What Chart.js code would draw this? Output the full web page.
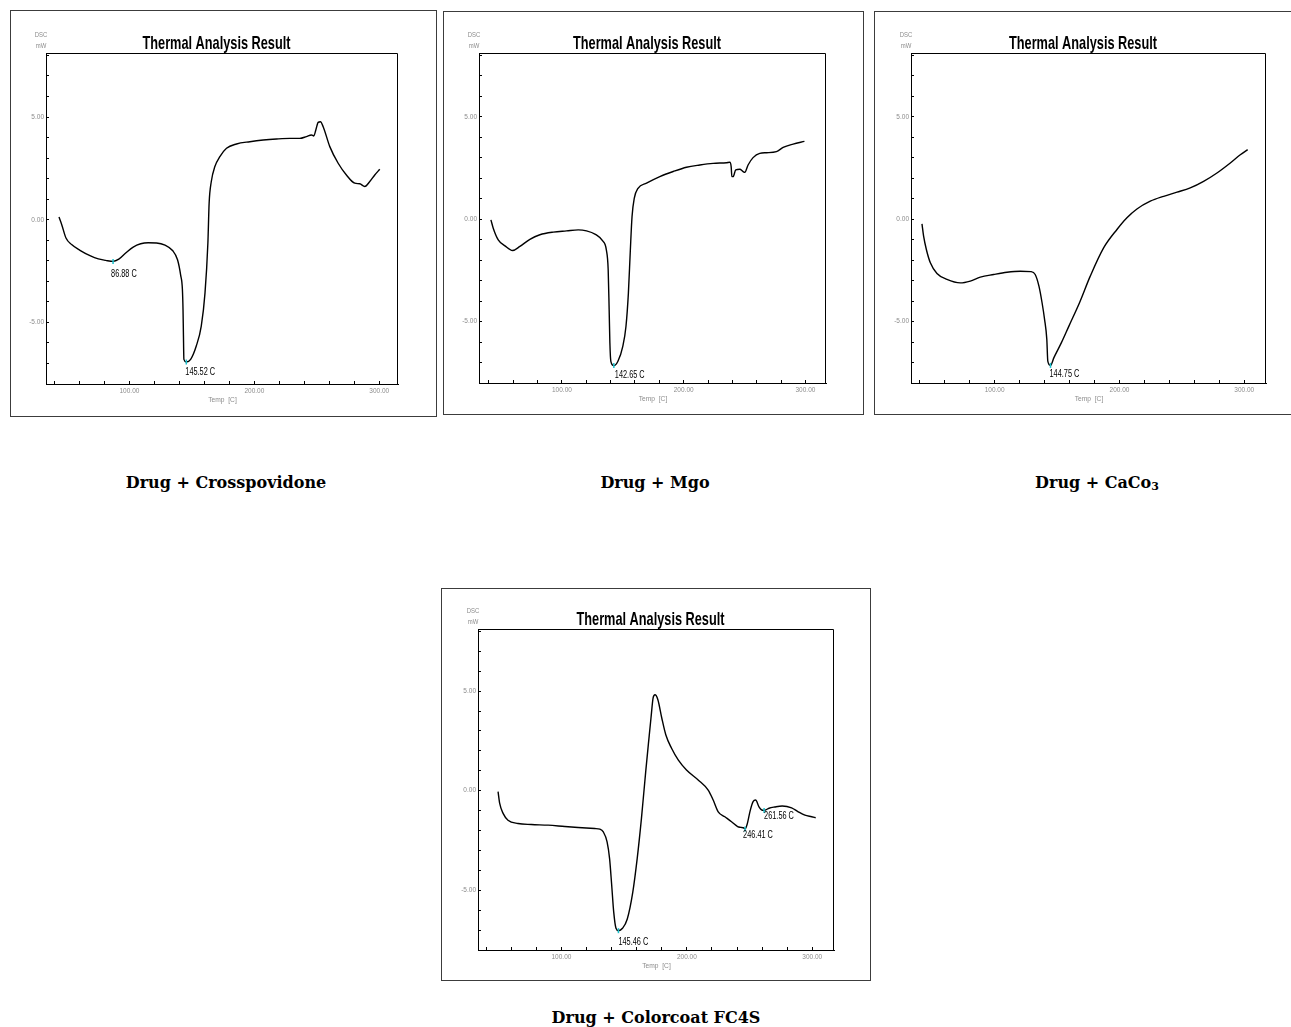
<!DOCTYPE html>
<html>
<head>
<meta charset="utf-8">
<title>Thermal Analysis Result</title>
<script src="https://cdn.jsdelivr.net/npm/chart.js@4.4.1/dist/chart.umd.min.js"></script>
<style>
  html, body { margin: 0; padding: 0; background: #fff; width: 1291px; height: 1027px; overflow: hidden; }
  canvas.panel { position: absolute; }
  .caption {
    position: absolute; width: 400px; text-align: center;
    font-family: 'DejaVu Serif', serif; font-weight: bold; font-size: 16px; line-height: 20px; color: #000;
  }
  .caption sub { font-size: 11px; vertical-align: -2px; line-height: 0; }
</style>
</head>
<body>
<div class="caption" style="left:26px; top:473px;">Drug + Crosspovidone</div>
<div class="caption" style="left:455px; top:473px;">Drug + Mgo</div>
<div class="caption" style="left:897px; top:473px;">Drug + CaCo<sub>3</sub></div>
<div class="caption" style="left:456px; top:1008px;">Drug + Colorcoat FC4S</div>

<script>
// DSC traces: temperature in °C, heat flow in mW
const crosspovidoneTemp = [43.6, 45.8, 49.2, 53.7, 60.4, 68.4, 75.1, 81.0, 86.88, 91.5,
  97.0, 103.0, 109.0, 115.0, 121.7, 128.5, 134.5, 138.5, 141.0, 142.4, 142.9,
  143.2, 143.6, 145.52, 149.0, 153.5, 157.5, 160.5, 162.8, 163.8, 165.5,
  168.4, 172.4, 177.7, 185.7, 196.4, 207.1, 217.7, 228.4, 236.4, 241.7,
  245.7, 247.6, 249.2, 251.1, 252.9, 255.1, 260.4, 267.1, 273.7, 280.4,
  284.4, 288.4, 292.4, 296.4, 300.4];
const crosspovidoneFlow = [0.13, -0.24, -0.89, -1.21, -1.49, -1.75, -1.91, -1.98, -2.03, -1.92,
  -1.62, -1.33, -1.17, -1.12, -1.13, -1.24, -1.50, -1.95, -2.70, -3.40, -4.40,
  -5.50, -6.80, -6.93, -6.80, -6.15, -5.18, -3.56, -1.13, 0.81, 1.85,
  2.59, 3.07, 3.48, 3.69, 3.80, 3.88, 3.93, 3.96, 3.96, 4.05,
  4.13, 4.08, 4.37, 4.74, 4.77, 4.53, 3.56, 2.75, 2.18, 1.78,
  1.75, 1.62, 1.86, 2.18, 2.46];
const crosspovidonePeaks = [86.88, 145.52];

const mgoTemp = [41.7, 43.6, 47.7, 53.2, 59.5, 65.5, 73.7, 81.9, 92.9, 103.8,
  113.4, 120.2, 127.5, 133.5, 136.5, 138.0, 138.8, 139.4, 140.2, 142.65,
  146.0, 150.0, 152.6, 154.6, 156.2, 157.6, 159.4, 162.5, 169.5, 180.4,
  191.4, 202.3, 213.3, 224.2, 235.2, 237.9, 239.0, 239.6, 240.6, 242.8,
  246.1, 248.8, 250.2, 252.9, 257.0, 262.5, 268.0, 276.2, 281.7, 289.9,
  299.2];
const mgoFlow = [-0.03, -0.44, -1.01, -1.30, -1.53, -1.33, -0.98, -0.76, -0.63, -0.57,
  -0.52, -0.57, -0.74, -1.06, -1.50, -2.47, -4.42, -6.05, -6.94, -7.15,
  -6.94, -6.21, -5.24, -3.61, -1.50, 0.13, 1.02, 1.51, 1.76, 2.08,
  2.33, 2.54, 2.65, 2.73, 2.76, 2.78, 2.57, 2.08, 2.08, 2.41,
  2.44, 2.33, 2.29, 2.65, 3.01, 3.22, 3.25, 3.30, 3.51, 3.67,
  3.80];
const mgoPeaks = [142.65];

const caco3Temp = [41.8, 43.1, 45.3, 48.5, 53.8, 61.8, 72.5, 80.5, 88.5, 99.2,
  109.9, 120.6, 129.0, 132.5, 135.5, 138.0, 140.0, 141.8, 142.6, 144.75,
  147.5, 153.5, 159.5, 168.0, 176.6, 187.3, 198.0, 206.0, 214.0, 224.7,
  235.4, 246.1, 256.7, 267.4, 278.1, 288.8, 296.8, 302.7];
const caco3Flow = [-0.23, -0.83, -1.48, -2.13, -2.65, -2.94, -3.11, -3.02, -2.83, -2.70,
  -2.59, -2.54, -2.56, -2.70, -3.27, -4.08, -4.89, -5.87, -6.93, -7.14,
  -6.76, -6.03, -5.22, -4.08, -2.78, -1.40, -0.50, 0.07, 0.50, 0.88,
  1.12, 1.32, 1.53, 1.85, 2.26, 2.75, 3.15, 3.40];
const caco3Peaks = [144.75];

const colorcoatTemp = [49.5, 50.8, 53.5, 57.4, 65.4, 76.1, 89.4, 102.7, 113.3, 126.6,
  130.6, 133.4, 136.4, 138.4, 140.1, 141.7, 143.5, 145.46, 148.7, 152.5,
  156.9, 160.4, 163.8, 167.2, 169.8, 171.4, 173.1, 174.6, 176.9, 180.0,
  183.2, 187.8, 193.1, 199.7, 209.0, 217.0, 221.0, 225.0, 230.3, 235.6,
  240.5, 243.0, 245.0, 246.41, 248.0, 250.5, 252.8, 254.8, 257.5, 259.5,
  261.56, 265.5, 270.0, 276.0, 283.5, 288.8, 294.1, 299.5, 302.7];
const colorcoatFlow = [-0.05, -0.64, -1.14, -1.48, -1.65, -1.70, -1.73, -1.80, -1.85, -1.90,
  -1.93, -2.07, -2.57, -3.41, -4.76, -6.10, -6.91, -7.03, -6.91, -6.44,
  -5.09, -3.41, -1.39, 0.96, 2.64, 3.65, 4.66, 4.82, 4.57, 3.65,
  2.81, 2.13, 1.55, 1.04, 0.54, 0.03, -0.47, -1.06, -1.31, -1.56,
  -1.80, -1.84, -1.86, -1.92, -1.70, -1.00, -0.55, -0.47, -0.81, -0.96,
  -0.99, -0.88, -0.82, -0.77, -0.86, -1.06, -1.23, -1.31, -1.36];
const colorcoatPeaks = [145.46, 246.41, 261.56];

// Axis ticks and labels
const yTickValues = [-8, -7, -6, -5, -4, -3, -2, -1, 0, 1, 2, 3, 4, 5, 6, 7, 8];
const yLabelledValues = [-5, 0, 5];
const yTickLabels = ['-5.00', '0.00', '5.00'];
const xTickValues = [40, 60, 80, 100, 120, 140, 160, 180, 200, 220, 240, 260, 280, 300];
const xLabelledValues = [100, 200, 300];
const xTickLabels = ['100.00', '200.00', '300.00'];

const chartTitle = 'Thermal Analysis Result';
const yAxisName = ['DSC', 'mW'];
const xAxisName = 'Temp  [C]';

// Page geometry for each plot (canvas frame and inner plot box)
const panels = [
  { temp: crosspovidoneTemp, flow: crosspovidoneFlow, peaks: crosspovidonePeaks,
    frame: { left: 10, top: 10, width: 427, height: 407 },
    plot: { left: 46, top: 53, right: 398, bottom: 384 },
    xMin: 33.2, xMax: 315.0, labelOffsets: [[-2, 13], [-1, 10]] },
  { temp: mgoTemp, flow: mgoFlow, peaks: mgoPeaks,
    frame: { left: 443, top: 11, width: 421, height: 404 },
    plot: { left: 479, top: 53, right: 826, bottom: 383 },
    xMin: 31.9, xMax: 316.9, labelOffsets: [[1, 10]] },
  { temp: caco3Temp, flow: caco3Flow, peaks: caco3Peaks,
    frame: { left: 874, top: 11, width: 430, height: 404 },
    plot: { left: 911, top: 53, right: 1266, bottom: 383 },
    xMin: 33.0, xMax: 317.4, labelOffsets: [[-1, 9]] },
  { temp: colorcoatTemp, flow: colorcoatFlow, peaks: colorcoatPeaks,
    frame: { left: 441, top: 588, width: 430, height: 393 },
    plot: { left: 478, top: 629, right: 834, bottom: 950 },
    xMin: 33.5, xMax: 317.3, labelOffsets: [[0, 11], [-2, 6], [0, 6]] }
];

const Y_MIN = -8, Y_MAX = 8.12;
const SANS = "'Liberation Sans', Arial, sans-serif";
const GREY = '#8c8c8c';

function drawScaledText(ctx, text, x, y, font, sx, align, baseline, color) {
  ctx.save();
  ctx.font = font;
  ctx.fillStyle = color;
  ctx.textAlign = align;
  ctx.textBaseline = baseline;
  ctx.translate(x, y);
  ctx.scale(sx, 1);
  ctx.fillText(text, 0, 0);
  ctx.restore();
}

// Frame, plot box, title, axis names and peak annotations
const decorPlugin = {
  id: 'dscDecor',
  afterDraw(chart, args, opts) {
    const ctx = chart.ctx;
    const ca = chart.chartArea;
    const W = chart.width, H = chart.height;
    ctx.save();
    // outer frame
    ctx.strokeStyle = '#3c3c3c';
    ctx.lineWidth = 1;
    ctx.strokeRect(0.5, 0.5, W - 1, H - 1);
    // top and right sides of the plot box
    ctx.strokeStyle = '#000';
    ctx.beginPath();
    const t = Math.round(ca.top) + 0.5, r = Math.round(ca.right) - 0.5;
    ctx.moveTo(Math.round(ca.left), t);
    ctx.lineTo(r, t);
    ctx.lineTo(r, Math.round(ca.bottom));
    ctx.stroke();
    ctx.restore();

    // title, narrowed to the instrument's condensed face
    ctx.save();
    ctx.font = 'bold 19px ' + SANS;
    const tw = ctx.measureText(chartTitle).width;
    ctx.restore();
    drawScaledText(ctx, chartTitle, (ca.left + ca.right) / 2 - 5.5, ca.top - 4.3,
      'bold 19px ' + SANS, 148 / tw, 'center', 'alphabetic', '#000');

    // axis names
    drawScaledText(ctx, yAxisName[0], ca.left - 5, ca.top - 18, '7px ' + SANS, 0.85, 'center', 'middle', GREY);
    drawScaledText(ctx, yAxisName[1], ca.left - 5, ca.top - 7, '7px ' + SANS, 0.85, 'center', 'middle', GREY);
    drawScaledText(ctx, xAxisName, (ca.left + ca.right) / 2 + 0.5, ca.bottom + 16, '7px ' + SANS, 0.95, 'center', 'middle', GREY);

    // peak temperature annotations
    const xs = chart.scales.x, ys = chart.scales.y;
    const pts = chart.data.datasets[1].data;
    pts.forEach((p, i) => {
      const px = xs.getPixelForValue(p.x), py = ys.getPixelForValue(p.y);
      const off = opts.offsets[i] || [0, 10];
      drawScaledText(ctx, p.x.toFixed(2) + ' C', px + off[0], py + off[1], '10.5px ' + SANS, 0.7, 'left', 'middle', '#000');
    });
  }
};

panels.forEach((p) => {
  const canvas = document.createElement('canvas');
  canvas.className = 'panel';
  canvas.width = p.frame.width;
  canvas.height = p.frame.height;
  canvas.style.left = p.frame.left + 'px';
  canvas.style.top = p.frame.top + 'px';
  canvas.style.width = p.frame.width + 'px';
  canvas.style.height = p.frame.height + 'px';
  document.body.appendChild(canvas);

  const yAxisWidth = p.plot.left - p.frame.left;
  const xAxisHeight = p.frame.top + p.frame.height - p.plot.bottom;
  const curve = p.temp.map((t, i) => ({ x: t, y: p.flow[i] }));
  const marks = p.peaks.map((t) => ({ x: t, y: p.flow[p.temp.indexOf(t)] }));

  new Chart(canvas, {
    type: 'line',
    data: {
      datasets: [
        { data: curve, borderColor: '#000', borderWidth: 1.4, pointRadius: 0,
          cubicInterpolationMode: 'monotone', fill: false, order: 2 },
        { data: marks, showLine: false, pointStyle: 'line', rotation: 90, pointRadius: 2.5,
          borderColor: '#18c0cc', borderWidth: 1.5, order: 1 }
      ]
    },
    options: {
      responsive: false,
      animation: false,
      devicePixelRatio: 1,
      events: [],
      layout: {
        autoPadding: false,
        padding: { left: 0, top: p.plot.top - p.frame.top, right: p.frame.left + p.frame.width - p.plot.right, bottom: 0 }
      },
      plugins: {
        legend: { display: false },
        tooltip: { enabled: false },
        title: { display: false },
        dscDecor: { offsets: p.labelOffsets }
      },
      scales: {
        x: {
          type: 'linear', min: p.xMin, max: p.xMax,
          afterFit: (s) => { s.height = xAxisHeight; },
          afterBuildTicks: (s) => { s.ticks = xTickValues.map((v) => ({ value: v })); },
          grid: { display: true, drawOnChartArea: false, drawTicks: true, tickLength: -3, color: '#000', lineWidth: 1 },
          border: { display: true, color: '#000', width: 1 },
          ticks: {
            autoSkip: false, maxRotation: 0, minRotation: 0, padding: 6, color: GREY,
            font: { family: SANS, size: 6.5 },
            callback: (v) => { const i = xLabelledValues.indexOf(v); return i < 0 ? '' : xTickLabels[i]; }
          }
        },
        y: {
          type: 'linear', min: Y_MIN, max: Y_MAX,
          afterFit: (s) => { s.width = yAxisWidth; },
          afterBuildTicks: (s) => { s.ticks = yTickValues.map((v) => ({ value: v })); },
          grid: { display: true, drawOnChartArea: false, drawTicks: true, tickLength: -3, color: '#000', lineWidth: 1 },
          border: { display: true, color: '#000', width: 1 },
          ticks: {
            autoSkip: false, padding: 5, color: GREY,
            font: { family: SANS, size: 6.5 },
            callback: (v) => { const i = yLabelledValues.indexOf(v); return i < 0 ? '' : yTickLabels[i]; }
          }
        }
      }
    },
    plugins: [decorPlugin]
  });
});
</script>
</body>
</html>
